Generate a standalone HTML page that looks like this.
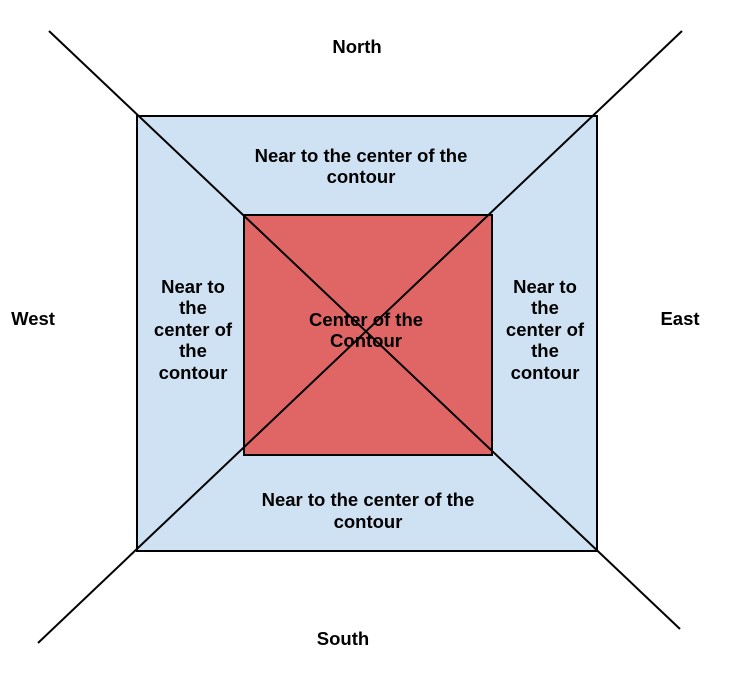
<!DOCTYPE html>
<html>
<head>
<meta charset="utf-8">
<style>
html,body{margin:0;padding:0;background:#fff;}
svg{display:block;}
text{font-family:"Liberation Sans",Arial,sans-serif;font-weight:bold;font-size:18.5px;fill:#000;}
</style>
</head>
<body>
<svg width="731" height="677" viewBox="0 0 731 677">
  <rect x="137" y="116" width="460" height="435" fill="#cfe2f3" stroke="#000" stroke-width="2"/>
  <rect x="244" y="215" width="248" height="240" fill="#e06666" stroke="#000" stroke-width="2"/>
  <line x1="49" y1="31" x2="680" y2="629" stroke="#000" stroke-width="2"/>
  <line x1="682" y1="31" x2="38" y2="643" stroke="#000" stroke-width="2"/>

  <text x="357" y="53" text-anchor="middle">North</text>
  <text x="343" y="645" text-anchor="middle">South</text>
  <text x="33" y="325" text-anchor="middle">West</text>
  <text x="680" y="325" text-anchor="middle">East</text>

  <g text-anchor="middle">
    <text x="361" y="162">Near to the center of the</text>
    <text x="361" y="183">contour</text>
  </g>
  <g text-anchor="middle">
    <text x="368" y="506">Near to the center of the</text>
    <text x="368" y="528">contour</text>
  </g>
  <g text-anchor="middle">
    <text x="193" y="293">Near to</text>
    <text x="193" y="314">the</text>
    <text x="193" y="336">center of</text>
    <text x="193" y="357">the</text>
    <text x="193" y="379">contour</text>
  </g>
  <g text-anchor="middle">
    <text x="545" y="293">Near to</text>
    <text x="545" y="314">the</text>
    <text x="545" y="336">center of</text>
    <text x="545" y="357">the</text>
    <text x="545" y="379">contour</text>
  </g>
  <g text-anchor="middle">
    <text x="366" y="326">Center of the</text>
    <text x="366" y="347">Contour</text>
  </g>
</svg>
</body>
</html>
